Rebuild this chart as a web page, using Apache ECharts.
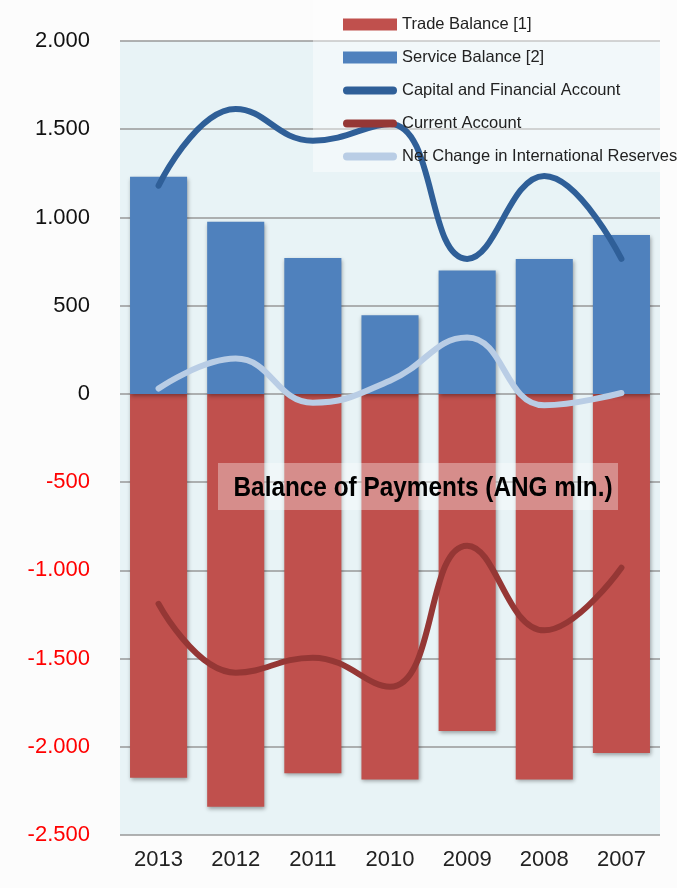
<!DOCTYPE html>
<html>
<head>
<meta charset="utf-8">
<script src="https://cdn.jsdelivr.net/npm/echarts@6/dist/echarts.min.js"></script>
<style>
html, body { margin: 0; padding: 0; background: #fcfcfc; }
#main { width: 677px; height: 888px; }
</style>
</head>
<body>
<div id="main"></div>
<script>
const years = ['2013', '2012', '2011', '2010', '2009', '2008', '2007'];
const tradeBalance = [-2175, -2340, -2150, -2185, -1910, -2185, -2035];
const serviceBalance = [1230, 975, 770, 445, 700, 765, 900];
const capitalFinancial = [1180, 1615, 1435, 1530, 765, 1235, 765];
const currentAccount = [-1190, -1580, -1495, -1660, -860, -1340, -985];
const reserves = [30, 200, -50, 75, 320, -65, 5];

const font = "'Liberation Sans', Arial, sans-serif";
// thin rounded bar used as legend icon for the line series
const lineIcon = 'path://M4,0 H50 A4,4 0 0 1 50,8 H4 A4,4 0 0 1 4,0 Z';

function fmt(v) {
  let s = Math.abs(v).toString().replace(/\B(?=(\d{3})+(?!\d))/g, '.');
  return (v < 0 ? '-' : '') + s;
}

let chartDom = document.getElementById('main');
let myChart = echarts.init(chartDom);

const barShadow = {
  shadowColor: 'rgba(0,0,0,0.35)',
  shadowBlur: 4,
  shadowOffsetX: 1,
  shadowOffsetY: 2
};

let option = {
  backgroundColor: '#fcfcfc',
  animation: false,
  grid: {
    left: 120,
    right: 17,
    top: 41,
    bottom: 53,
    show: true,
    backgroundColor: '#e8f3f6',
    borderWidth: 0
  },
  legend: {
    orient: 'vertical',
    left: 338,
    top: 11,
    itemWidth: 54,
    itemHeight: 12,
    itemGap: 16,
    symbolKeepAspect: true,
    selectedMode: false,
    textStyle: { fontFamily: font, fontSize: 16.5, color: '#222' },
    data: [
      { name: 'Trade Balance [1]', icon: 'rect' },
      { name: 'Service Balance [2]', icon: 'rect' },
      { name: 'Capital and Financial Account', icon: lineIcon },
      { name: 'Current Account', icon: lineIcon },
      { name: 'Net Change in International Reserves', icon: lineIcon }
    ]
  },
  graphic: [
    {
      type: 'rect',
      z: 3,
      shape: { x: 313, y: 0, width: 347, height: 172 },
      style: { fill: 'rgba(255,255,255,0.45)' }
    },
    {
      type: 'rect',
      z: 10,
      shape: { x: 218, y: 463, width: 400, height: 47 },
      style: { fill: 'rgba(255,255,255,0.35)' }
    },
    {
      type: 'text',
      z: 11,
      x: 423,
      y: 488,
      scaleX: 0.87,
      style: {
        text: 'Balance of Payments (ANG mln.)',
        fontFamily: font,
        fontWeight: 'bold',
        fontSize: 28,
        fill: '#000',
        align: 'center',
        verticalAlign: 'middle'
      }
    }
  ],
  xAxis: {
    type: 'category',
    data: years,
    axisLine: { show: false },
    axisTick: { show: false },
    axisLabel: {
      margin: 14,
      fontFamily: font,
      fontSize: 22,
      color: '#222'
    }
  },
  yAxis: {
    type: 'value',
    min: -2500,
    max: 2000,
    interval: 500,
    axisLine: { show: false },
    axisTick: { show: false },
    splitLine: { lineStyle: { color: '#999', width: 1.5 } },
    axisLabel: {
      margin: 30,
      formatter: function (v) {
        return v < 0 ? '{n|' + fmt(v) + '}' : '{p|' + fmt(v) + '}';
      },
      rich: {
        n: { fontFamily: font, fontSize: 22, color: '#ff0000' },
        p: { fontFamily: font, fontSize: 22, color: '#111' }
      }
    }
  },
  series: [
    {
      name: 'Trade Balance [1]',
      type: 'bar',
      stack: 'bal',
      data: tradeBalance,
      barCategoryGap: '26%',
      itemStyle: Object.assign({ color: '#c0504d' }, barShadow)
    },
    {
      name: 'Service Balance [2]',
      type: 'bar',
      stack: 'bal',
      data: serviceBalance,
      itemStyle: Object.assign({ color: '#4f81bd' }, barShadow)
    },
    {
      name: 'Capital and Financial Account',
      type: 'line',
      data: capitalFinancial,
      smooth: 0.45,
      symbol: 'none',
      itemStyle: { color: '#2f5f98' },
      lineStyle: { color: '#2f5f98', width: 6, cap: 'round' }
    },
    {
      name: 'Current Account',
      type: 'line',
      data: currentAccount,
      smooth: 0.45,
      symbol: 'none',
      itemStyle: { color: '#953735' },
      lineStyle: { color: '#953735', width: 6, cap: 'round' }
    },
    {
      name: 'Net Change in International Reserves',
      type: 'line',
      data: reserves,
      smooth: 0.45,
      symbol: 'none',
      itemStyle: { color: '#b9cde5' },
      lineStyle: { color: '#b9cde5', width: 6, cap: 'round' }
    }
  ]
};

option && myChart.setOption(option);
</script>
</body>
</html>
